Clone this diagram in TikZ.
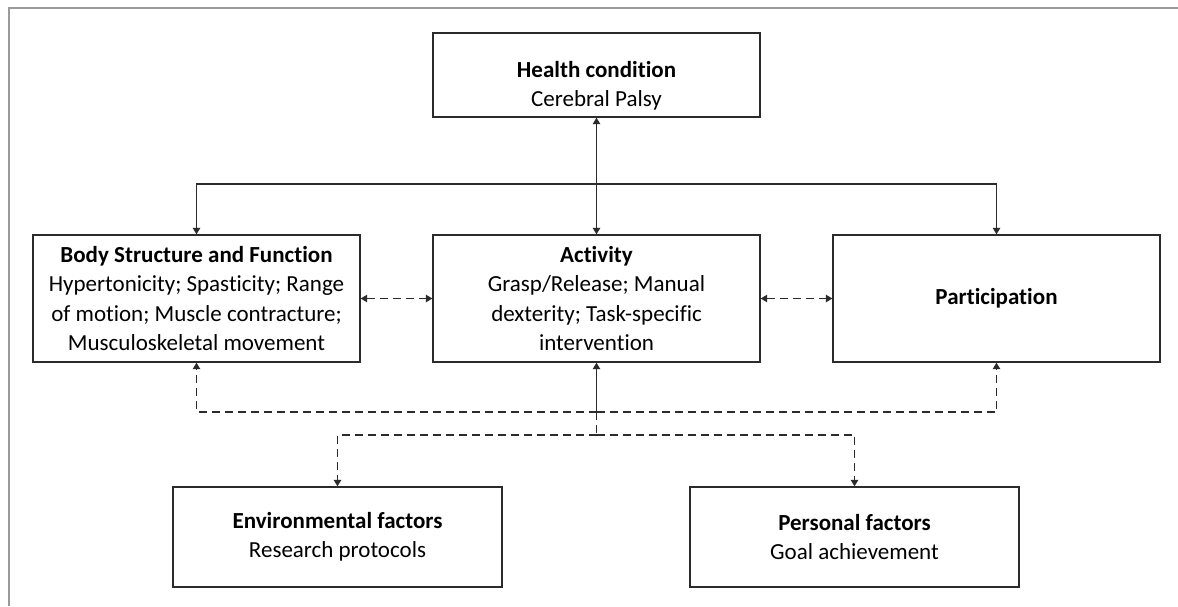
\documentclass[tikz,border=0pt]{standalone}
\usepackage{fontspec}
\setmainfont{Carlito}[Ligatures={NoCommon}]
\usetikzlibrary{arrows.meta}
\definecolor{ink}{HTML}{2B2B2B}
\definecolor{framegray}{HTML}{9A9A9A}
\begin{document}
\begin{tikzpicture}[x=1pt,y=-1pt,
  font=\fontsize{23}{29.5}\selectfont,
  box/.style={draw=ink,line width=1.4pt,minimum width=327pt,inner sep=0pt,
    align=center,text=black},
  tip/.style={-{Triangle[length=6.5pt,width=7.5pt]}},
  bitip/.style={{Triangle[length=6.5pt,width=7.5pt]}-{Triangle[length=6.5pt,width=7.5pt]}},
  conn/.style={draw=ink,line width=1.3pt},
  dashconn/.style={conn,dash pattern=on 8pt off 5pt}]
\useasboundingbox (0,0) rectangle (1178,606);
\fill[white] (0,0) rectangle (1178,606);
% outer frame (top and left edges)
\draw[framegray,line width=2.5pt] (9,606) -- (9,8) -- (1178,8);

% boxes
\node[box,minimum height=84pt] (health) at (596.5,75) {};
\node[align=center] (healthtxt) at (596.5,86) {\textbf{Health condition}\\Cerebral Palsy};
\node[box,minimum height=127pt] (body) at (196.5,298.5)
  {\textbf{Body Structure and Function}\\Hypertonicity; Spasticity; Range\\of motion; Muscle contracture;\\Musculoskeletal movement};
\node[box,minimum height=127pt] (act) at (596.5,298.5)
  {\textbf{Activity}\\Grasp/Release; Manual\\dexterity; Task-specific\\intervention};
\node[box,minimum height=127pt] (part) at (996.5,298.5) {\textbf{Participation}};
\node[box,minimum width=329pt,minimum height=100pt] (env) at (337.5,537)
  {\textbf{Environmental factors}\\Research protocols};
\node[box,minimum width=329pt,minimum height=100pt] (pers) at (854.5,537)
  {\textbf{Personal factors}\\Goal achievement};

% junction points
\coordinate (tophub) at (596.5,184);
\coordinate (lowhub) at (596.5,412);
\coordinate (envhub) at (596.5,435);

% health condition links
\draw[conn,bitip] (health.south) -- (act.north);
\draw[conn,tip] (tophub) -| (body.north);
\draw[conn,tip] (tophub) -| (part.north);

% lateral links
\draw[dashconn,bitip] (body.east) -- (act.west);
\draw[dashconn,bitip] (act.east) -- (part.west);

% contextual factors
\draw[conn,tip] (lowhub) -- (act.south);
\draw[dashconn,tip] (lowhub) -| (body.south);
\draw[dashconn,tip] (lowhub) -| (part.south);
\draw[dashconn] (lowhub) -- (envhub);
\draw[dashconn,tip] (envhub) -| (env.north);
\draw[dashconn,tip] (envhub) -| (pers.north);
\end{tikzpicture}
\end{document}
